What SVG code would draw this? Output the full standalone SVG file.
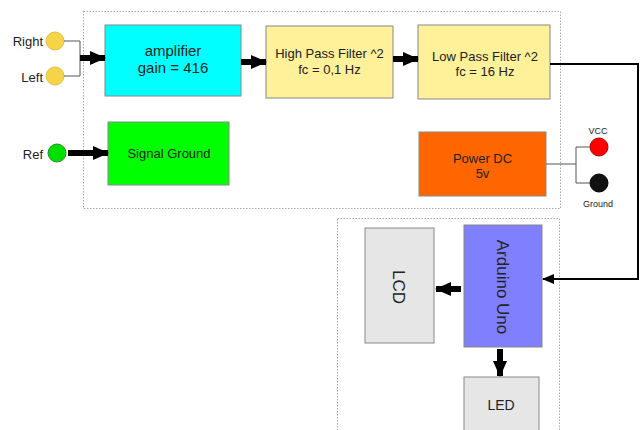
<svg xmlns="http://www.w3.org/2000/svg" width="641" height="430" viewBox="0 0 641 430">
<style>
text{font-family:"Liberation Sans",Arial,sans-serif;fill:#222;text-anchor:middle}
.frame{fill:none;stroke:#aaa;stroke-width:1;stroke-dasharray:1.5 1.5}
.box{stroke:#888;stroke-width:1}
.thin{fill:none;stroke:#555;stroke-width:1}
.lbl{font-size:13px;text-anchor:end}
.t{font-size:13px}
.big{font-size:15px}
.vert{font-size:17px}
.small{font-size:9px}
.fat{stroke:#000;stroke-width:6;marker-end:url(#head)}
</style>
<defs>
<marker id="head" markerUnits="userSpaceOnUse" markerWidth="16" markerHeight="14" refX="15" refY="7" orient="auto">
<path d="M0,0 L16,7 L0,14 Z" fill="#000"/>
</marker>
<marker id="thinhead" markerUnits="userSpaceOnUse" markerWidth="12" markerHeight="12" refX="11" refY="6" orient="auto">
<path d="M0,1 L12,6 L0,11 Z" fill="#000"/>
</marker>
</defs>
<rect width="641" height="430" fill="#fff"/>
<rect class="frame" x="83.5" y="11.5" width="477" height="197"/>
<rect class="frame" x="337.5" y="218.5" width="222" height="220"/>

<g id="right"><circle cx="55" cy="41" r="9" fill="#f5d547" stroke="#e0c040"/><text class="lbl" x="43" y="46">Right</text></g>
<g id="left"><circle cx="55" cy="76" r="9" fill="#f5d547" stroke="#e0c040"/><text class="lbl" x="43" y="82">Left</text></g>
<g id="ref"><circle cx="57" cy="153" r="9" fill="#00e000" stroke="#2a8a2a"/><text class="lbl" x="43" y="159">Ref</text></g>

<g id="amplifier"><rect class="box" x="105" y="25" width="136" height="71" fill="#00ffff"/><text class="big" x="173" y="56">amplifier</text><text class="big" x="173" y="73">gain = 416</text></g>
<g id="hpf"><rect class="box" x="266" y="26" width="127" height="72" fill="#fff09a"/><text class="t" x="329.5" y="58">High Pass Filter ^2</text><text class="t" x="329.5" y="74">fc = 0,1 Hz</text></g>
<g id="lpf"><rect class="box" x="418" y="25" width="132" height="74" fill="#fff09a"/><text class="t" x="485" y="61">Low Pass Filter ^2</text><text class="t" x="485" y="76">fc = 16 Hz</text></g>
<g id="signal-ground"><rect class="box" x="108" y="122" width="121" height="63" fill="#00ff00"/><text class="t" x="169" y="158">Signal Ground</text></g>
<g id="power"><rect class="box" x="419" y="132" width="127" height="64" fill="#ff6600"/><text class="t" x="482.5" y="163">Power DC</text><text class="t" x="482.5" y="178">5v</text></g>
<g id="vcc"><circle cx="599" cy="147" r="9" fill="#ff0000" stroke="#b00"/><text class="small" x="598" y="134">VCC</text></g>
<g id="ground"><circle cx="599" cy="183" r="9" fill="#111" stroke="#000"/><text class="small" x="598" y="207">Ground</text></g>

<g id="arduino"><rect class="box" x="464" y="225" width="78" height="122" fill="#8080ff"/><text class="vert" transform="translate(497 287) rotate(90)">Arduino Uno</text></g>
<g id="lcd"><rect class="box" x="365" y="228" width="69" height="115" fill="#e6e6e6"/><text class="vert" transform="translate(393 287) rotate(90)">LCD</text></g>
<g id="led"><rect class="box" x="464" y="377" width="75" height="60" fill="#e6e6e6"/><text x="501" y="410" style="font-size:14px">LED</text></g>

<g id="connectors">
<path class="thin" d="M64,41 H80 V76 H64"/>
<line class="fat" x1="80" y1="58" x2="105" y2="58"/>
<line class="fat" x1="68" y1="153" x2="108" y2="153"/>
<line class="fat" x1="241" y1="62" x2="266" y2="62"/>
<line class="fat" x1="393" y1="59" x2="418" y2="59"/>
<path d="M550,64 H638 V279 H543" fill="none" stroke="#000" stroke-width="2" marker-end="url(#thinhead)"/>
<path class="thin" d="M546,164 H576 M576,147 V183 M576,147 H590 M576,183 H590"/>
<line class="fat" x1="461" y1="289" x2="436" y2="289"/>
<line class="fat" x1="500" y1="349" x2="500" y2="376"/>
</g>
</svg>
